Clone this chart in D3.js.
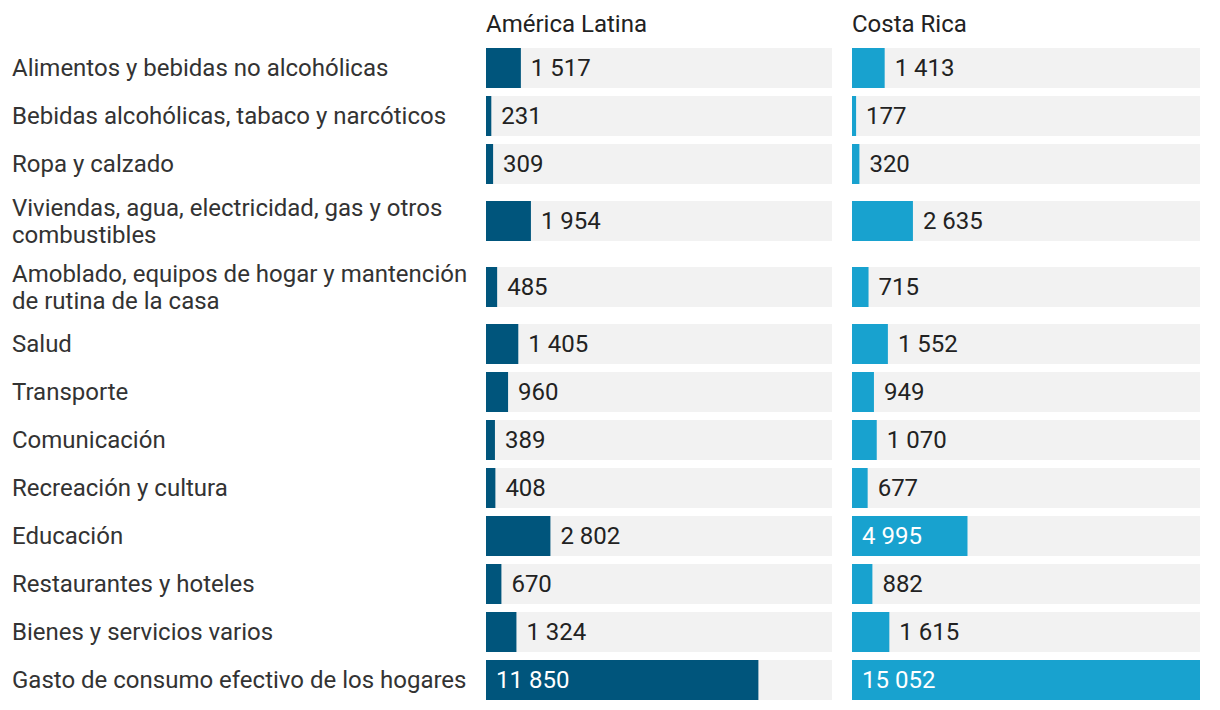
<!DOCTYPE html>
<html>
<head>
<meta charset="utf-8">
<script src="https://cdn.jsdelivr.net/npm/d3@7"></script>
<style>
  html, body { margin: 0; padding: 0; background: #fff; }
  svg { display: block; font-family: Roboto, "Noto Sans", sans-serif; }
</style>
</head>
<body>
<svg id="chart" width="1220" height="710"></svg>
<script>
const categories = [
  "Alimentos y bebidas no alcohólicas",
  "Bebidas alcohólicas, tabaco y narcóticos",
  "Ropa y calzado",
  "Viviendas, agua, electricidad, gas y otros combustibles",
  "Amoblado, equipos de hogar y mantención de rutina de la casa",
  "Salud",
  "Transporte",
  "Comunicación",
  "Recreación y cultura",
  "Educación",
  "Restaurantes y hoteles",
  "Bienes y servicios varios",
  "Gasto de consumo efectivo de los hogares"
];
const seriesNames = ["América Latina", "Costa Rica"];
const americaLatina = [1517, 231, 309, 1954, 485, 1405, 960, 389, 408, 2802, 670, 1324, 11850];
const costaRica = [1413, 177, 320, 2635, 715, 1552, 949, 1070, 677, 4995, 882, 1615, 15052];
const seriesColors = ["#00557c", "#18a2cf"];

const svg = d3.select("#chart");
const fontSize = 24;
const lineH = 27;
const labelX = 12;
const labelMaxW = 466;
const barH = 40;
const gap = 8;
const top0 = 48;

const panels = [
  { name: seriesNames[0], values: americaLatina, color: seriesColors[0], x0: 486, x1: 832 },
  { name: seriesNames[1], values: costaRica, color: seriesColors[1], x0: 852, x1: 1200 }
];

const locale = d3.formatLocale({ decimal: ",", thousands: " ", grouping: [3], currency: ["", ""] });
const fmt = locale.format(",d");

// wrap category labels
const labelG = svg.append("g");
const rows = categories.map((c, i) => {
  const t = labelG.append("text")
    .attr("x", labelX)
    .attr("font-size", fontSize)
    .attr("fill", "#333");
  const words = c.split(" ");
  let lines = [];
  let line = [];
  const probe = t.append("tspan").attr("x", labelX);
  words.forEach(w => {
    line.push(w);
    probe.text(line.join(" "));
    if (probe.node().getComputedTextLength() > labelMaxW && line.length > 1) {
      line.pop();
      lines.push(line.join(" "));
      line = [w];
    }
  });
  lines.push(line.join(" "));
  probe.remove();
  return { text: t, lines };
});

// layout rows
let y = top0;
rows.forEach(r => {
  const h = Math.max(barH, r.lines.length * lineH + 4);
  r.top = y;
  r.h = h;
  r.cy = y + h / 2;
  y += h + gap;
});

rows.forEach(r => {
  const n = r.lines.length;
  const firstBaseline = r.cy - (n - 1) * lineH / 2 + 8;
  r.lines.forEach((l, j) => {
    r.text.append("tspan")
      .attr("x", labelX)
      .attr("y", firstBaseline + j * lineH)
      .text(l);
  });
});

const maxVal = d3.max(costaRica.concat(americaLatina));

panels.forEach(p => {
  const x = d3.scaleLinear().domain([0, maxVal]).range([p.x0, p.x1]);
  const g = svg.append("g");
  g.append("text")
    .attr("x", p.x0)
    .attr("y", 32)
    .attr("font-size", fontSize)
    .attr("fill", "#222")
    .text(p.name);

  p.values.forEach((v, i) => {
    const r = rows[i];
    const by = r.cy - barH / 2;
    g.append("rect")
      .attr("x", p.x0).attr("y", by)
      .attr("width", p.x1 - p.x0).attr("height", barH)
      .attr("fill", "#f2f2f2");
    const w = x(v) - x(0);
    g.append("rect")
      .attr("x", x(0)).attr("y", by)
      .attr("width", w).attr("height", barH)
      .attr("fill", p.color);
    const lbl = g.append("text")
      .attr("y", r.cy + 8)
      .attr("font-size", fontSize)
      .text(fmt(v));
    const tw = lbl.node().getComputedTextLength();
    if (tw + 20 < w) {
      lbl.attr("x", x(0) + 10).attr("fill", "#fff");
    } else {
      lbl.attr("x", x(v) + 10).attr("fill", "#222");
    }
  });
});
</script>
</body>
</html>
